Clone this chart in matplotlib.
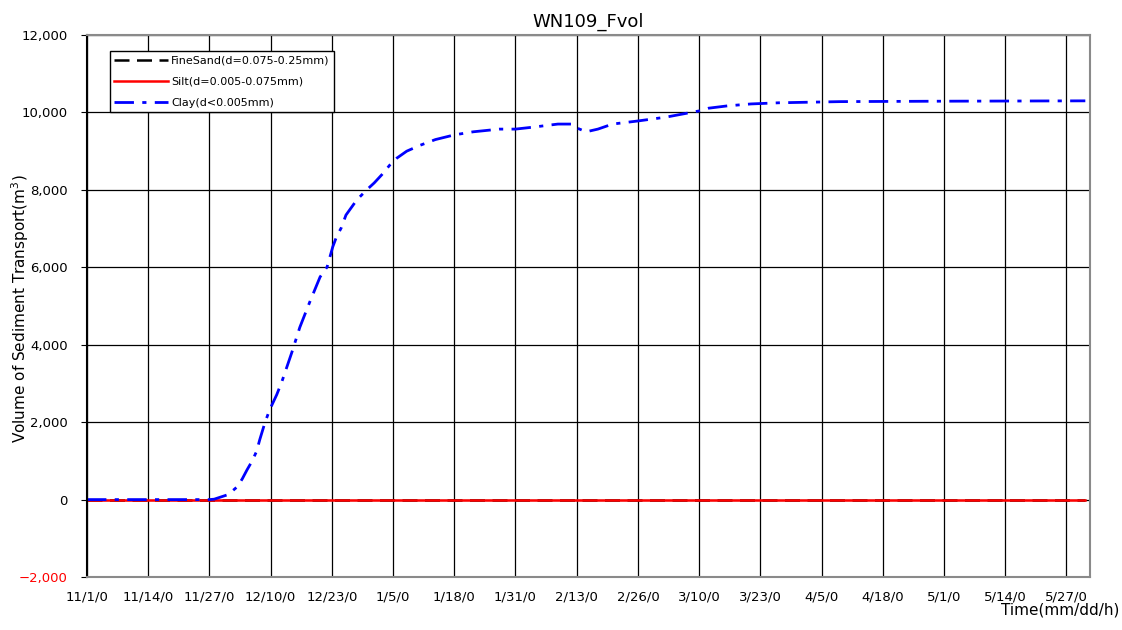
import matplotlib
matplotlib.use("Agg")
import matplotlib.pyplot as plt

# Data (days since 11/1 hour 0)
days = [0, 26, 27, 28, 30, 32, 33, 34, 35, 36, 36.7, 37.8, 38.8, 40.3, 41.4,
        43.5, 45.2, 47.3, 49.5, 51, 51.6, 52.2, 53, 54, 55, 57.3, 59.4, 61,
        62.6, 64.3, 65.8, 67.9, 70.7, 74, 78, 82, 87.6, 91, 94.7, 100, 103,
        104, 106, 108.5, 111.6, 117, 123, 126.5, 130, 132, 136, 141, 147,
        160, 180, 212]
clay = [0, 0, 10, 50, 130, 340, 540, 770, 980, 1240, 1550, 1990, 2320, 2710,
        3050, 3800, 4450, 5100, 5750, 6010, 6270, 6530, 6790, 7020, 7350, 7740,
        8000, 8180, 8390, 8640, 8820, 9000, 9150, 9300, 9420, 9500, 9570, 9570,
        9620, 9700, 9700, 9600, 9500, 9570, 9700, 9780, 9880, 9960, 10040,
        10110, 10170, 10220, 10250, 10280, 10290, 10300]
sand = [0] * len(days)
silt = [0] * len(days)

tick_days = list(range(0, 209, 13))
tick_labels = ["11/1/0", "11/14/0", "11/27/0", "12/10/0", "12/23/0", "1/5/0",
               "1/18/0", "1/31/0", "2/13/0", "2/26/0", "3/10/0", "3/23/0",
               "4/5/0", "4/18/0", "5/1/0", "5/14/0", "5/27/0"]
y_ticks = [-2000, 0, 2000, 4000, 6000, 8000, 10000, 12000]

fig = plt.figure(figsize=(11.22, 6.3), dpi=100)
ax = fig.add_axes([0.0775, 0.0841, 0.894, 0.8603])

ax.plot(days, sand, color="black", lw=1.8, ls=(0, (6, 3)),
        label="FineSand(d=0.075-0.25mm)")
ax.plot(days, silt, color="red", lw=1.8, ls="-",
        label="Silt(d=0.005-0.075mm)")
ax.plot(days, clay, color="blue", lw=2, ls=(0, (7, 3, 1.5, 3)),
        label="Clay(d<0.005mm)")

ax.set_xlim(0, 213)
ax.set_ylim(-2000, 12000)
ax.set_xticks(tick_days, tick_labels)
ax.set_yticks(y_ticks, [f"{v:,}".replace("-", "\u2212") for v in y_ticks])
ax.get_yticklabels()[0].set_color("red")
ax.tick_params(axis="x", length=0, pad=10, labelsize=9.5)
ax.tick_params(axis="y", length=4, pad=10, labelsize=9.5)

ax.grid(True, color="black", lw=0.9)
ax.set_axisbelow(True)
for s in ax.spines.values():
    s.set_color("#8a8a8a")
    s.set_linewidth(1.5)
ax.spines["left"].set_color("black")

ax.set_title("WN109_Fvol", fontsize=13, pad=6)
fig.text(0.018, 0.51, "Volume of Sediment Transport(m$^3$)", fontsize=11,
         rotation=90, ha="center", va="center")
fig.text(0.945, 0.025, "Time(mm/dd/h)", fontsize=11, ha="center")

leg = ax.legend(loc="upper left", bbox_to_anchor=(0.023, 0.97), fontsize=8,
                frameon=True, fancybox=False, edgecolor="black",
                handlelength=4.8, borderpad=0.4, labelspacing=1.0,
                handletextpad=0.3, borderaxespad=0)
leg.get_frame().set_linewidth(1.0)
leg.get_frame().set_alpha(1)

fig.savefig("out.png", dpi=100)
